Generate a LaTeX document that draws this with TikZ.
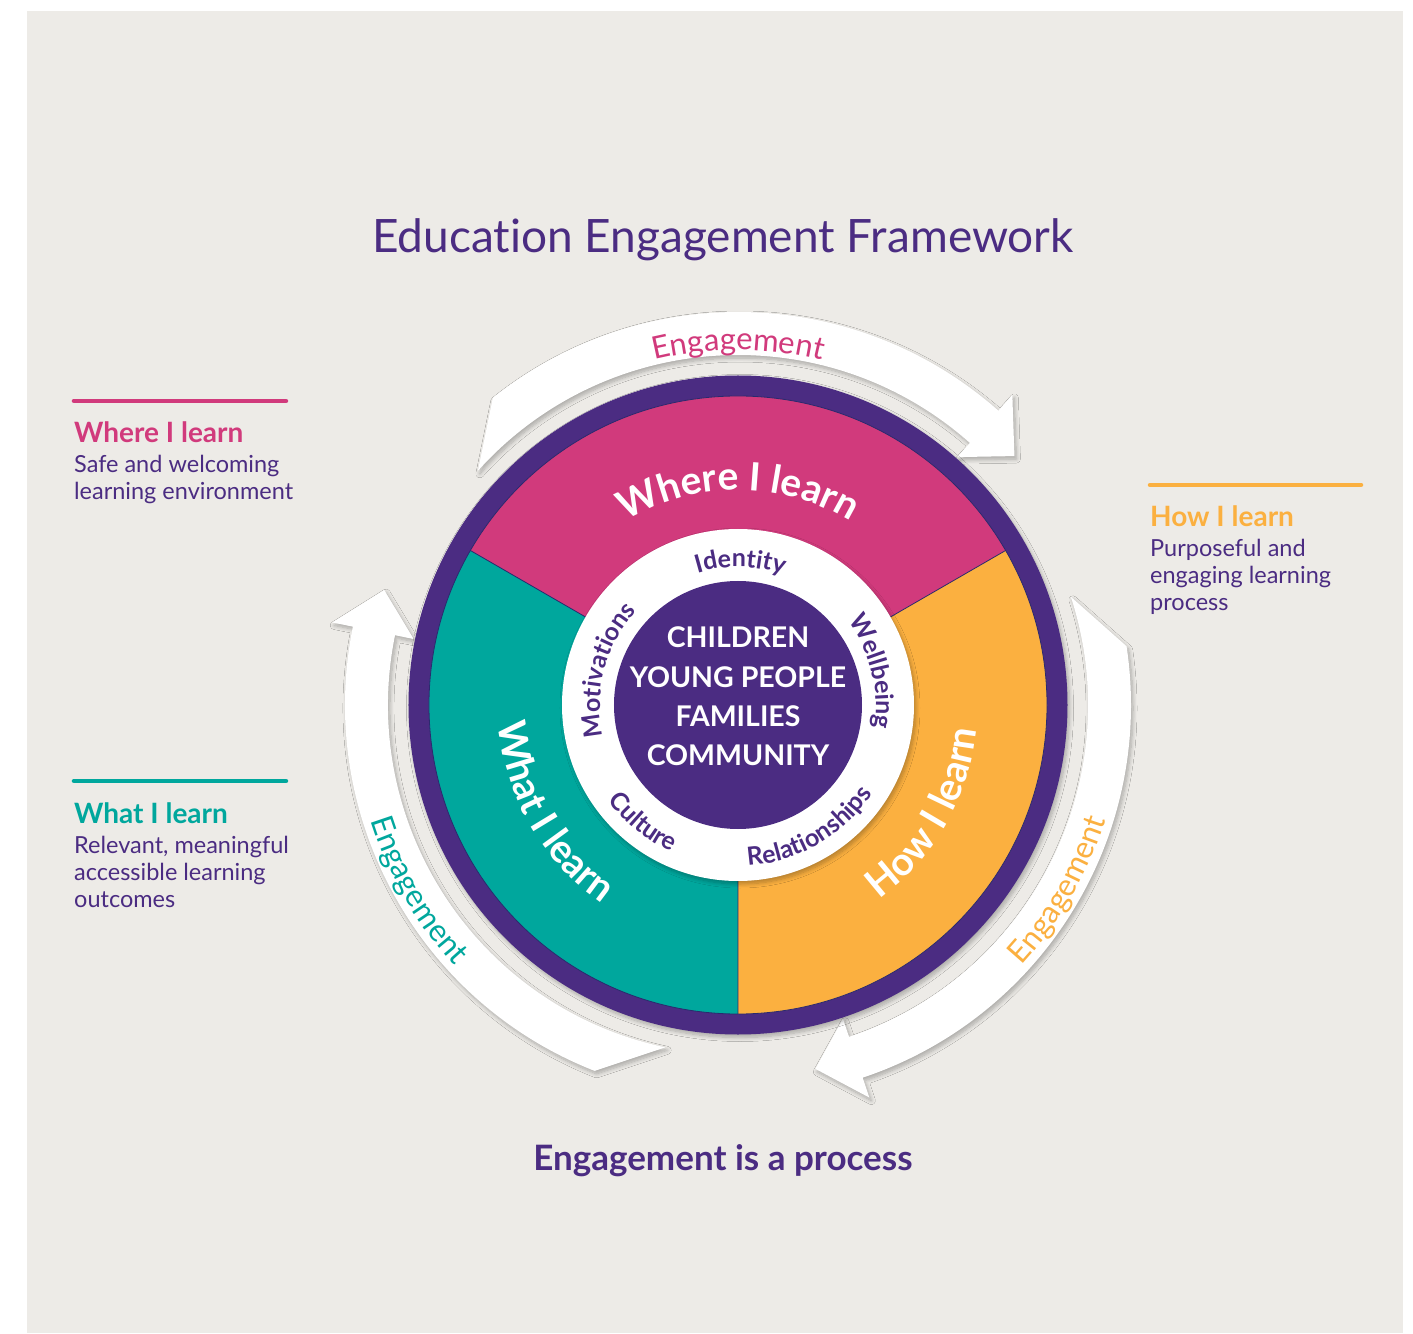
\documentclass[tikz,border=0pt]{standalone}
\usepackage{fontspec}
\setmainfont{Lato}[Ligatures=NoCommon]
\usetikzlibrary{decorations.text,shadows.blur}

\definecolor{bggray}{HTML}{EDEBE7}
\definecolor{eefpurple}{HTML}{4B2C82}
\definecolor{eefpink}{HTML}{D13A7C}
\definecolor{eefteal}{HTML}{00A79D}
\definecolor{eeforange}{HTML}{FBB040}
\definecolor{eefnavy}{HTML}{2A2A6E}

\newcommand{\fs}[1]{\fontsize{#1}{#1}\selectfont}

\tikzset{
  softshadow/.style={blur shadow={shadow xshift=2pt, shadow yshift=-3pt,
      shadow blur radius=4pt, shadow blur steps=8, shadow opacity=28}},
  arctext/.style={decorate, decoration={text along path, text align=center, text={#1}}},
  lbl/.style={anchor=base west, inner sep=0pt},
  ctr/.style={anchor=base, inner sep=0pt},
  rulebar/.style={line width=4.5pt, line cap=round},
}

% white curved "Engagement" arrow, rotated by #1 degrees about the centre
\newcommand{\engarrow}[1]{%
  \fill[white, softshadow]
    (#1+128.6:393pt) arc[start angle=#1+128.6, end angle=#1+48.5, radius=393pt]
    -- (#1+48.5:414pt) -- (#1+42:372pt) -- (#1+48.5:331pt) -- (#1+48.5:350pt)
    arc[start angle=#1+48.5, end angle=#1+138, radius=350pt] -- cycle;
}

\begin{document}
\begin{tikzpicture}[x=1pt, y=1pt]
\useasboundingbox (-738,-628) rectangle (675,705);
\fill[white] (-738,-628) rectangle (675,705);
\fill[bggray] (-711,-628) rectangle (665,694);

% title and footer
\node[ctr, text=eefpurple, font=\fs{46}] (title) at (-15,452) {Education Engagement Framework};
\node[ctr, text=eefpurple, font=\bfseries\fs{35}] (footer) at (-15,-465) {Engagement is a process};

% engagement arrows
\engarrow{0}
\engarrow{-120}
\engarrow{120}
\path[arctext={|\fs{31}\color{eefpink}|Engagement}]
  (130:355pt) arc[start angle=130, end angle=50, radius=355pt];
\path[arctext={|\fs{31}\color{eeforange}|Engagement}]
  (-70:385pt) arc[start angle=-70, end angle=10, radius=385pt];
\path[arctext={|\fs{31}\color{eefteal}|Engagement}]
  (170:385pt) arc[start angle=170, end angle=250, radius=385pt];

% wheel
\fill[eefpurple, softshadow] (0,0) circle[radius=329.5pt];
\fill[eefpink] (0,0) -- (30:309pt) arc[start angle=30, end angle=150, radius=309pt] -- cycle;
\fill[eefteal] (0,0) -- (150:309pt) arc[start angle=150, end angle=270, radius=309pt] -- cycle;
\fill[eeforange] (0,0) -- (270:309pt) arc[start angle=270, end angle=390, radius=309pt] -- cycle;
\draw[eefnavy, line width=0.8pt] (0,0) circle[radius=309pt];
\draw[eefnavy, line width=0.8pt] (0,0) -- (30:309pt) (0,0) -- (150:309pt) (0,0) -- (270:309pt);
\fill[white, softshadow] (0,0) circle[radius=176pt];
\fill[eefpurple] (0,0) circle[radius=124pt];

% sector labels
\path[arctext={|\bfseries\fs{39}\color{white}|Where I learn}]
  (150:215pt) arc[start angle=150, end angle=30, radius=215pt];
\path[arctext={|\bfseries\fs{39}\color{white}|How I learn}]
  (-90:240pt) arc[start angle=-90, end angle=30, radius=240pt];
\path[arctext={|\bfseries\fs{39}\color{white}|What I learn}]
  (150:240pt) arc[start angle=150, end angle=270, radius=240pt];

% inner ring words
\path[arctext={|\bfseries\fs{25}\color{eefpurple}|Identity}]
  (129:138pt) arc[start angle=129, end angle=49, radius=138pt];
\path[arctext={|\bfseries\fs{25}\color{eefpurple}|Wellbeing}]
  (54:138pt) arc[start angle=54, end angle=-26, radius=138pt];
\path[arctext={|\bfseries\fs{25}\color{eefpurple}|Motivations}]
  (205:138pt) arc[start angle=205, end angle=125, radius=138pt];
\path[arctext={|\bfseries\fs{25}\color{eefpurple}|Culture}]
  (191:161pt) arc[start angle=191, end angle=271, radius=161pt];
\path[arctext={|\bfseries\fs{25}\color{eefpurple}|Relationships}]
  (255:161pt) arc[start angle=255, end angle=345, radius=161pt];

% centre
\node[ctr, text=white, font=\bfseries\fs{28.5}] (c1) at (0,57) {CHILDREN};
\node[ctr, text=white, font=\bfseries\fs{28.5}] (c2) at (0,18) {YOUNG PEOPLE};
\node[ctr, text=white, font=\bfseries\fs{28.5}] (c3) at (0,-21) {FAMILIES};
\node[ctr, text=white, font=\bfseries\fs{28.5}] (c4) at (0,-60) {COMMUNITY};

% side labels: where
\draw[eefpink, rulebar] (-664,304) -- (-452,304);
\node[lbl, text=eefpink, font=\bfseries\fs{28}] (whereT) at (-664,262) {Where I learn};
\node[lbl, text=eefpurple, font=\fs{23.5}] (whereA) at (-664,232) {Safe and welcoming};
\node[lbl, text=eefpurple, font=\fs{23.5}] (whereB) at (-664,205) {learning environment};

% side labels: what
\draw[eefteal, rulebar] (-664,-76) -- (-452,-76);
\node[lbl, text=eefteal, font=\bfseries\fs{28}] (whatT) at (-664,-118) {What I learn};
\node[lbl, text=eefpurple, font=\fs{23.5}] (whatA) at (-664,-148) {Relevant, meaningful};
\node[lbl, text=eefpurple, font=\fs{23.5}] (whatB) at (-664,-175) {accessible learning};
\node[lbl, text=eefpurple, font=\fs{23.5}] (whatC) at (-664,-202) {outcomes};

% side labels: how
\draw[eeforange, rulebar] (412,220) -- (623,220);
\node[lbl, text=eeforange, font=\bfseries\fs{28}] (howT) at (412,178) {How I learn};
\node[lbl, text=eefpurple, font=\fs{23.5}] (howA) at (412,148) {Purposeful and};
\node[lbl, text=eefpurple, font=\fs{23.5}] (howB) at (412,121) {engaging learning};
\node[lbl, text=eefpurple, font=\fs{23.5}] (howC) at (412,94) {process};
\end{tikzpicture}
\end{document}
